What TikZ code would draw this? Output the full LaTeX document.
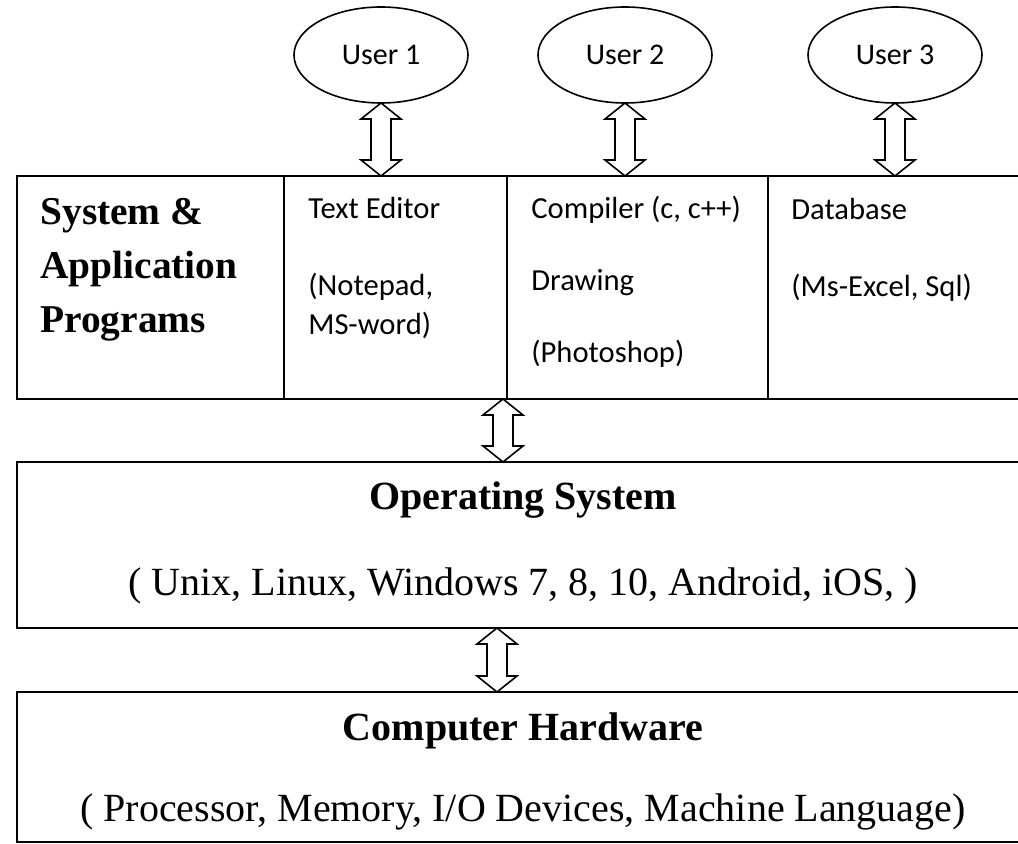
\documentclass[tikz,border=0pt]{standalone}
\usepackage{fontspec}
\setmainfont{Liberation Serif}
\newfontfamily\calibri{Carlito}
\usetikzlibrary{shapes.geometric,calc}

% one unit = one pixel of a 1018 x 844 canvas, y grows downwards
\tikzset{
  x=0.5pt, y=-0.5pt,
  box/.style={draw=black, line width=1pt, rectangle, inner sep=0pt, outer sep=0pt, anchor=north west},
  user/.style={draw=black, line width=0.8pt, ellipse, minimum width=87pt, minimum height=48pt,
    inner sep=0pt, outer sep=0pt, font=\calibri\fontsize{15pt}{18pt}\selectfont},
  head/.style={font=\bfseries\fontsize{20pt}{24pt}\selectfont, inner sep=0pt, anchor=base},
  sub/.style={font=\fontsize{20pt}{24pt}\selectfont, inner sep=0pt, anchor=base},
  celltext/.style={font=\calibri\fontsize{15.3pt}{18pt}\selectfont, inner sep=0pt, anchor=base west},
  syslabel/.style={font=\bfseries\fontsize{19.7pt}{24pt}\selectfont, inner sep=0pt, anchor=base west},
  twoway/.style={draw=black, line width=0.8pt, fill=white, line join=miter},
}

% hollow two-headed arrow from a top point to a bottom point
\newcommand\twowayarrow[2]{%
  \draw[twoway] (#1) -- ($(#1)+(20,16)$) -- ($(#1)+(10,16)$) -- ($(#2)+(10,-16)$)
    -- ($(#2)+(20,-16)$) -- (#2) -- ($(#2)+(-20,-16)$) -- ($(#2)+(-10,-16)$)
    -- ($(#1)+(-10,16)$) -- ($(#1)+(-20,16)$) -- cycle;}

\begin{document}
\begin{tikzpicture}
\useasboundingbox (0,0) rectangle (1018,844);

% users
\node[user] (u1) at (381,55) {User 1};
\node[user] (u2) at (625,55) {User 2};
\node[user] (u3) at (895,55) {User 3};

% programs row
\node[box, minimum width=133.5pt, minimum height=111.5pt] (sys) at (17,176) {};
\node[box, minimum width=111.5pt, minimum height=111.5pt] (te) at (sys.north east) {};
\node[box, minimum width=130.5pt, minimum height=111.5pt] (cc) at (te.north east) {};
\node[box, minimum width=136pt, minimum height=111.5pt] (db) at (cc.north east) {};

\node[syslabel] (syst) at (40,225)
  {\vtop{\baselineskip=27pt \hbox{System \&}\hbox{Application}\hbox{Programs}}};
\node[celltext] (tet) at (308,219)
  {\vtop{\baselineskip=19.25pt \hbox{Text Editor}\hbox{}\hbox{(Notepad,}\hbox{MS-word)}}};
\node[celltext] (cct) at (531,219)
  {\vtop{\baselineskip=36pt \hbox{Compiler (c, c++)}\hbox{Drawing}\hbox{(Photoshop)}}};
\node[celltext] (dbt) at (791,220)
  {\vtop{\baselineskip=38.5pt \hbox{Database}\hbox{(Ms-Excel, Sql)}}};

% operating system
\node[box, minimum width=506pt, minimum height=83pt] (os) at (17,462) {};
\node[head] (ost) at (523,510) {Operating System};
\node[sub] (oss) at (523,596) {( Unix, Linux, Windows 7, 8, 10, Android, iOS, )};

% hardware
\node[box, minimum width=506pt, minimum height=75pt] (hw) at (17,692) {};
\node[head] (hwt) at (523,740) {Computer Hardware};
\node[sub] (hws) at (523,821) {( Processor, Memory, I/O Devices, Machine Language)};

% connectors
\coordinate (a1) at (u1.south |- te.north);
\coordinate (a2) at (u2.south |- cc.north);
\coordinate (a3) at (u3.south |- db.north);
\coordinate (p1) at ($(te.south east)+(-4,0)$);
\coordinate (p2) at (p1 |- os.north);
\coordinate (q1) at ($(os.south)+(-26,0)$);
\coordinate (q2) at (q1 |- hw.north);

\twowayarrow{u1.south}{a1}
\twowayarrow{u2.south}{a2}
\twowayarrow{u3.south}{a3}
\twowayarrow{p1}{p2}
\twowayarrow{q1}{q2}
\end{tikzpicture}
\end{document}
